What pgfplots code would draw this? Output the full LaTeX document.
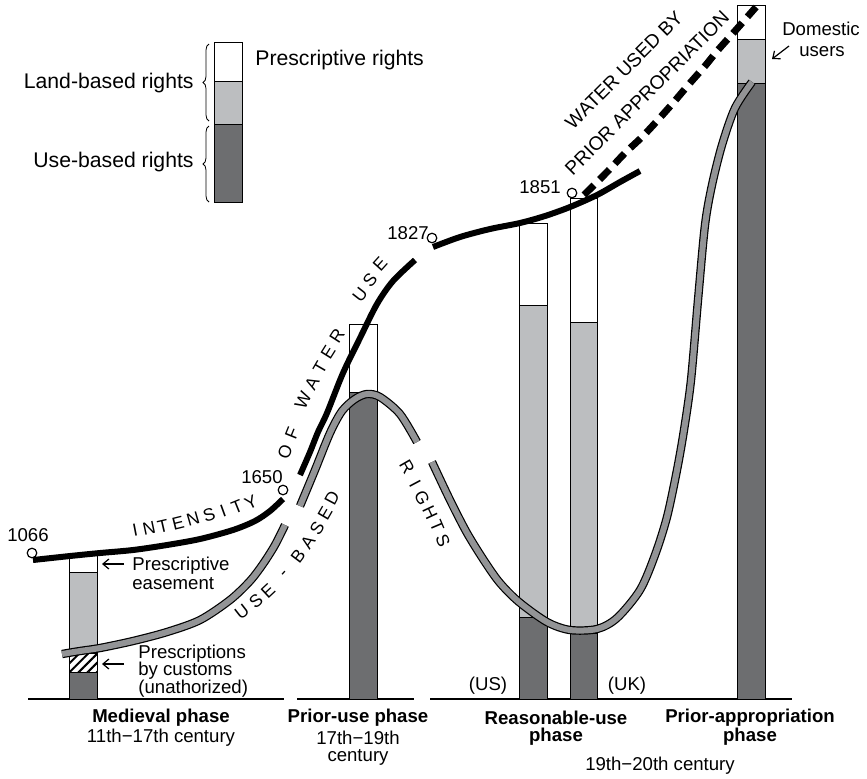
\documentclass[border=0pt]{standalone}
\usepackage{fontspec}
\setmainfont{Liberation Sans}
\usepackage{pgfplots}
\pgfplotsset{compat=1.18}
\usetikzlibrary{arrows.meta,patterns.meta,decorations.pathreplacing}
\definecolor{darkg}{HTML}{6D6E70}
\definecolor{lightg}{HTML}{BCBEC0}
\definecolor{bandg}{HTML}{939496}
\newcommand{\seg}[5]{\addplot[fill=#5, draw=black, line width=0.5pt] coordinates {(#1,#3) (#2,#3) (#2,#4) (#1,#4)} -- cycle;}
\newcommand{\band}[1]{\addplot[black, line width=4.2pt, smooth] coordinates {#1};
 \addplot[bandg, line width=3pt, smooth] coordinates {#1};}
\tikzset{
  lt/.style={font=\fontsize{8.8}{10}\selectfont, inner sep=0pt},
  tx/.style={font=\fontsize{9.3}{11}\selectfont, inner sep=0pt},
  bx/.style={font=\fontsize{9.3}{11}\selectfont\bfseries, inner sep=0pt},
  lg/.style={font=\fontsize{10.6}{12}\selectfont, inner sep=0pt},
}
\begin{document}
\begin{tikzpicture}
\begin{axis}[
  width=433.5pt, height=389pt, scale only axis,
  xmin=0, xmax=867, ymin=0, ymax=778, y dir=reverse,
  hide axis, clip=false,
  ]
% baseline
\addplot[black, line width=0.7pt] coordinates {(28,699) (284,699)};
\addplot[black, line width=0.7pt] coordinates {(297,699) (414,699)};
\addplot[black, line width=0.7pt] coordinates {(430,699) (792,699)};
% legend bar
\seg{214}{242}{42}{81}{white}
\seg{214}{242}{81}{124}{lightg}
\seg{214}{242}{124}{202}{darkg}
% medieval
\seg{69}{97}{554}{572}{white}
\seg{69}{97}{572}{653}{lightg}
\addplot[pattern={Lines[angle=45,distance=3.2pt,line width=1pt]}, draw=black, line width=0.5pt] coordinates {(69,653) (97,653) (97,672) (69,672)} -- cycle;
\seg{69}{97}{672}{699}{darkg}
% prior use
\seg{349}{377}{324}{392}{white}
\seg{349}{377}{392}{699}{darkg}
% reasonable use US
\seg{519}{547}{223}{305}{white}
\seg{519}{547}{305}{617}{lightg}
\seg{519}{547}{617}{699}{darkg}
% UK
\seg{570}{597}{198}{322}{white}
\seg{570}{597}{322}{633}{lightg}
\seg{570}{597}{633}{699}{darkg}
% prior appropriation
\seg{737}{765}{5}{39}{white}
\seg{737}{765}{39}{83}{lightg}
\seg{737}{765}{83}{699}{darkg}
% use-based rights band
\band{(62,654) (80,651) (100,648) (133,641) (167,632) (200,620) (230,600) (250,581) (263,564) (275,545) (285,525)}
\band{(300,506) (315,470) (330,433) (342,411) (355,399) (367,394) (380,397) (400,414) (417,442)}
\band{(432,462) (450,500) (467,533) (485,562) (500,583) (519,602) (547,622) (570,630) (597,629) (617,618) (640,590) (655,555) (667,517) (677,470) (684,430) (691,380) (698,300) (705,225) (712,185) (722,145) (735,108) (752,82)}
% intensity of water use
\addplot[black, line width=3pt, smooth] coordinates {(33,560) (70,556) (100,553) (133,550) (167,545) (200,539) (233,530) (255,521) (270,511) (283,499)};
\addplot[black, line width=3pt, smooth] coordinates {(300,475) (310,452) (318,432) (327,413) (343,373) (360,338) (377,304) (393,281) (415,260)};
\addplot[black, line width=3pt, smooth] coordinates {(433,247) (460,237) (490,229) (520,223) (545,216) (570,207) (597,195) (620,182) (640,171)};
% prior appropriation dashed
\addplot[black, line width=3.5pt, dash pattern=on 7pt off 4pt, smooth] coordinates {(584,195) (607,172) (625,153) (642,137) (657,121) (673,103) (690,83) (705,66) (718,50) (735,31) (756,7)};
% year markers
\addplot[only marks, mark=*, mark size=2.4pt, mark options={fill=white, draw=black, line width=0.6pt}] coordinates {(32,553) (283,490) (432,238) (572,193)};
% arrows
\addplot[-{Straight Barb[length=3pt,width=5pt]}, line width=0.6pt] coordinates {(124,564) (102,564)};
\addplot[-{Straight Barb[length=3pt,width=5pt]}, line width=0.6pt] coordinates {(124,664) (102,664)};
\addplot[-{Straight Barb[length=3pt,width=5pt]}, line width=0.6pt] coordinates {(789,46) (772,59)};
% braces
\draw[decorate, decoration={brace, amplitude=3pt}, line width=0.4pt] (axis cs:209,121) -- (axis cs:209,44);
\draw[decorate, decoration={brace, amplitude=3pt}, line width=0.4pt] (axis cs:209,202) -- (axis cs:209,126);
% legend text
\node[lg, anchor=west] at (axis cs:255,60) {Prescriptive rights};
\node[lg, anchor=east] at (axis cs:194,83) {Land-based rights};
\node[lg, anchor=east] at (axis cs:194,162) {Use-based rights};
% years
\node[tx] at (axis cs:28,535) {1066};
\node[tx] at (axis cs:262,477) {1650};
\node[tx] at (axis cs:408,233) {1827};
\node[tx] at (axis cs:540,187) {1851};
% annotations
\node[tx, anchor=west] at (axis cs:132,566) {Prescriptive};
\node[tx, anchor=west] at (axis cs:132,584) {easement};
\node[tx, anchor=west] at (axis cs:138,654) {Prescriptions};
\node[tx, anchor=west] at (axis cs:138,671) {by customs};
\node[tx, anchor=west] at (axis cs:138,689) {(unathorized)};
\node[tx] at (axis cs:488,686) {(US)};
\node[tx] at (axis cs:627,686) {(UK)};
\node[tx] at (axis cs:821,29) {Domestic};
\node[tx] at (axis cs:822,52) {users};
\node[tx, font=\fontsize{9.6}{11}\selectfont, rotate=45] at (axis cs:624,70) {WATER USED BY};
\node[tx, font=\fontsize{9.6}{11}\selectfont, rotate=45] at (axis cs:647,93) {PRIOR APPROPRIATION};
% phases
\node[bx] at (axis cs:161,718) {Medieval phase};
\node[tx] at (axis cs:161,738) {11th−17th century};
\node[bx] at (axis cs:358,718) {Prior-use phase};
\node[tx] at (axis cs:358,738) {17th−19th};
\node[tx] at (axis cs:358,757) {century};
\node[bx] at (axis cs:556,718) {Reasonable-use};
\node[bx] at (axis cs:556,737) {phase};
\node[bx] at (axis cs:750,718) {Prior-appropriation};
\node[bx] at (axis cs:750,737) {phase};
\node[tx] at (axis cs:660,766) {19th−20th century};
% INTENSITY
\node[lt, rotate=11] at (axis cs:135,530) {I};
\node[lt, rotate=12] at (axis cs:149,528) {N};
\node[lt, rotate=13] at (axis cs:163,526) {T};
\node[lt, rotate=14] at (axis cs:178,523) {E};
\node[lt, rotate=16] at (axis cs:193,519) {N};
\node[lt, rotate=18] at (axis cs:209,515) {S};
\node[lt, rotate=20] at (axis cs:223,511) {I};
\node[lt, rotate=22] at (axis cs:237,507) {T};
\node[lt, rotate=26] at (axis cs:251,502) {Y};
% OF WATER USE
\node[lt, rotate=68] at (axis cs:285,452) {O};
\node[lt, rotate=68] at (axis cs:292,433) {F};
\node[lt, rotate=64] at (axis cs:303,400) {W};
\node[lt, rotate=62] at (axis cs:312,383) {A};
\node[lt, rotate=60] at (axis cs:320,368) {T};
\node[lt, rotate=58] at (axis cs:328,352) {E};
\node[lt, rotate=57] at (axis cs:337,336) {R};
\node[lt, rotate=52] at (axis cs:360,295) {U};
\node[lt, rotate=50] at (axis cs:370,280) {S};
\node[lt, rotate=48] at (axis cs:380,264) {E};
% USE - BASED
\node[lt, rotate=38] at (axis cs:242,612) {U};
\node[lt, rotate=40] at (axis cs:256,601) {S};
\node[lt, rotate=43] at (axis cs:268,591) {E};
\node[lt, rotate=48] at (axis cs:285,575) {-};
\node[lt, rotate=53] at (axis cs:298,556) {B};
\node[lt, rotate=56] at (axis cs:308,542) {A};
\node[lt, rotate=58] at (axis cs:317,528) {S};
\node[lt, rotate=60] at (axis cs:325,513) {E};
\node[lt, rotate=62] at (axis cs:332,498) {D};
% RIGHTS
\node[lt, rotate=-60] at (axis cs:407,467) {R};
\node[lt, rotate=-62] at (axis cs:415,484) {I};
\node[lt, rotate=-64] at (axis cs:422,498) {G};
\node[lt, rotate=-65] at (axis cs:430,513) {H};
\node[lt, rotate=-67] at (axis cs:437,526) {T};
\node[lt, rotate=-68] at (axis cs:443,541) {S};
\coordinate (SW) at (axis cs:0,778);
\coordinate (NE) at (axis cs:867,0);
\end{axis}
\pgfresetboundingbox
\useasboundingbox (SW) rectangle (NE);
\end{tikzpicture}
\end{document}
